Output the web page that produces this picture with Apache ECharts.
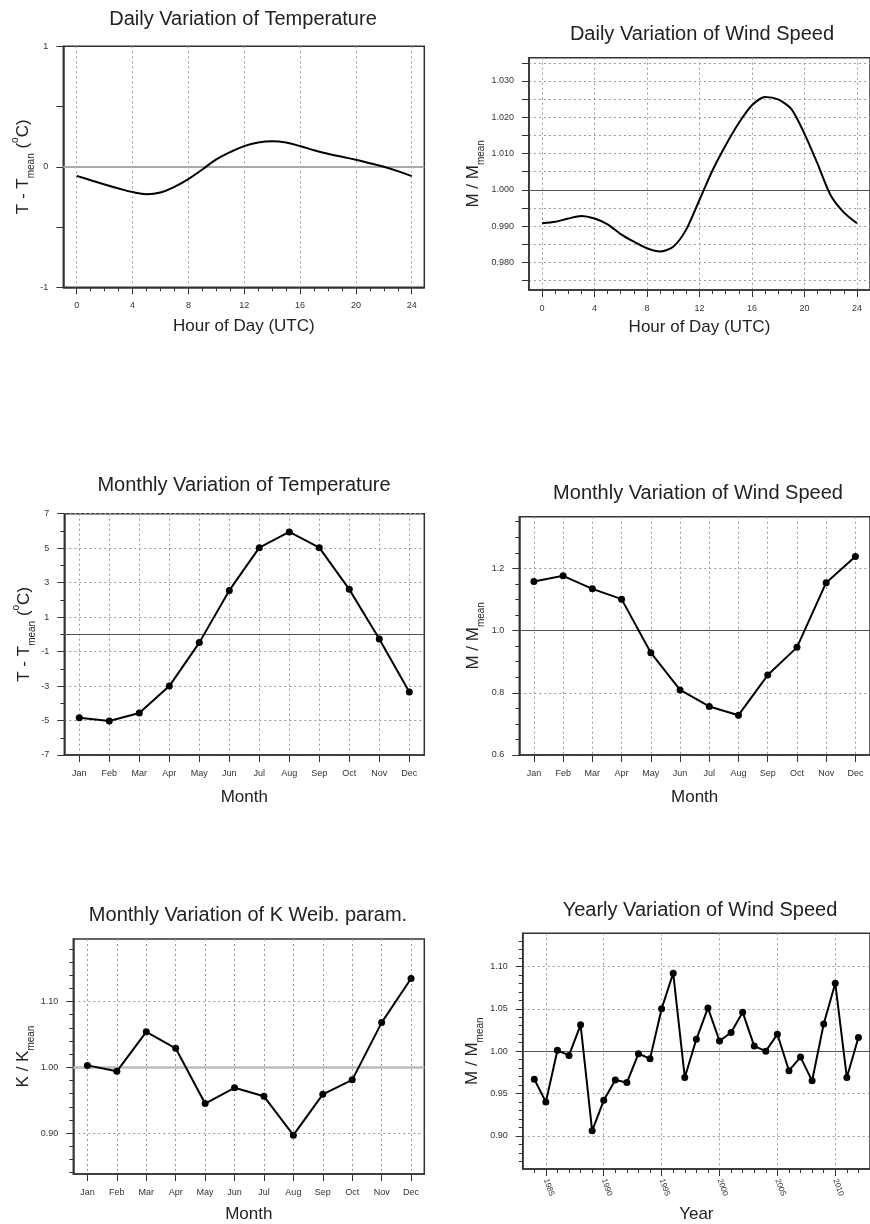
<!DOCTYPE html>
<html>
<head>
<meta charset="utf-8">
<script src="https://cdn.jsdelivr.net/npm/echarts@6/dist/echarts.min.js"></script>
<style>
html, body { margin: 0; padding: 0; background: #fff; }
#chart { width: 870px; height: 1224px; }
</style>
</head>
<body>
<div id="chart"></div>
<script>
/* datos */
const hours = [0,1,2,3,4,5,6,7,8,9,10,11,12,13,14,15,16,17,18,19,20,21,22,23,24];
const dailyTemp = [-0.075,-0.111,-0.147,-0.180,-0.210,-0.227,-0.213,-0.166,-0.102,-0.022,0.061,0.122,0.172,0.202,0.213,0.202,0.172,0.138,0.108,0.083,0.058,0.030,0.0,-0.036,-0.077];
const dailyWind = [0.9908,0.9912,0.9921,0.9928,0.9921,0.9905,0.9878,0.9857,0.9839,0.9830,0.9843,0.9891,0.9972,1.0054,1.0123,1.0184,1.0233,1.0256,1.0249,1.0223,1.0155,1.0072,0.9985,0.9938,0.9908];

const months = ["Jan","Feb","Mar","Apr","May","Jun","Jul","Aug","Sep","Oct","Nov","Dec"];
const monthNums = [1,2,3,4,5,6,7,8,9,10,11,12];
const monthlyTemp = [-4.84,-5.03,-4.56,-3.0,-0.48,2.55,5.03,5.94,5.03,2.61,-0.27,-3.35];
const monthlyWind = [1.158,1.176,1.134,1.101,0.929,0.809,0.756,0.728,0.857,0.946,1.154,1.238];
const monthlyK = [1.003,0.994,1.054,1.029,0.945,0.969,0.956,0.897,0.959,0.981,1.068,1.135];

const years = [1984,1985,1986,1987,1988,1989,1990,1991,1992,1993,1994,1995,1996,1997,1998,1999,2000,2001,2002,2003,2004,2005,2006,2007,2008,2009,2010,2011,2012];
const yearlyWind = [0.967,0.940,1.001,0.995,1.031,0.906,0.942,0.966,0.963,0.997,0.991,1.050,1.092,0.969,1.014,1.051,1.012,1.022,1.046,1.006,1.000,1.020,0.977,0.993,0.965,1.032,1.080,0.969,1.016];

/* ticks */
const hourTicks = [0,4,8,12,16,20,24];
const yearTicks = [1985,1990,1995,2000,2005,2010];
const tempDayTicks = [-1,-0.5,0,0.5,1];
const tempDayLabels = [-1,0,1];
const windDayTicks = [0.975,0.98,0.985,0.99,0.995,1.0,1.005,1.01,1.015,1.02,1.025,1.03,1.035];
const windDayLabels = [0.98,0.99,1.0,1.01,1.02,1.03];
const tempMonTicks = [-7,-5,-3,-1,1,3,5,7];
const tempMonMinor = [-6,-4,-2,0,2,4,6];
const windMonTicks = [0.6,0.8,1.0,1.2];
const windMonMinor = [0.65,0.7,0.75,0.85,0.9,0.95,1.05,1.1,1.15,1.25,1.3,1.35];
const kMonTicks = [0.9,1.0,1.1];
const kMonMinor = [0.84,0.86,0.88,0.92,0.94,0.96,0.98,1.02,1.04,1.06,1.08,1.12,1.14,1.16,1.18];
const windYrTicks = [0.9,0.95,1.0,1.05,1.1];
const windYrMinor = [0.87,0.88,0.89,0.91,0.92,0.93,0.94,0.96,0.97,0.98,0.99,1.01,1.02,1.03,1.04,1.06,1.07,1.08,1.09,1.11,1.12,1.13];

const FONT = '"Liberation Sans", Arial, sans-serif';
const INK = '#222';
const AXC = '#333';
const dots = { color: '#9a9a9a', width: 1, type: [2, 3] };

const option = {
    animation: false,
    backgroundColor: '#fff',
    title: [],
    grid: [],
    xAxis: [],
    yAxis: [],
    series: []
};

function yName(main, sub, sup, tail) {
    let s = '{a|' + main + '}{s|' + sub + '}';
    if (sup) s += '{a| (}{p|' + sup + '}{a|' + tail + '}';
    return s;
}

const nameStyle = {
    fontFamily: FONT, fontSize: 17, color: INK,
    rich: {
        a: { fontFamily: FONT, fontSize: 17, color: INK, lineHeight: 26 },
        s: { fontFamily: FONT, fontSize: 10, color: INK, verticalAlign: 'bottom', lineHeight: 10 },
        p: { fontFamily: FONT, fontSize: 10, color: INK, verticalAlign: 'top', lineHeight: 12 }
    }
};

function addPanel(p) {
    const gi = option.grid.length;
    option.grid.push({
        show: true, left: p.grid[0], top: p.grid[1], width: p.grid[2], height: p.grid[3],
        borderColor: AXC, borderWidth: 1.5, backgroundColor: 'transparent'
    });
    option.title.push({
        text: p.title, left: p.titlePos[0], top: p.titlePos[1], padding: 0,
        textAlign: 'center', textVerticalAlign: 'middle',
        textStyle: { fontFamily: FONT, fontSize: 20, fontWeight: 'normal', color: INK }
    });

    const xi = option.xAxis.length;
    option.xAxis.push({
        type: 'value', gridIndex: gi, position: 'bottom', min: p.x.min, max: p.x.max,
        name: p.x.name, nameLocation: 'middle', nameGap: p.x.nameGap,
        nameTextStyle: { fontFamily: FONT, fontSize: 17, color: INK },
        axisLine: { show: true, onZero: false, lineStyle: { color: AXC, width: 1.5 } },
        axisTick: { show: true, customValues: p.x.ticks, length: 7, lineStyle: { color: AXC, width: 1 } },
        axisLabel: {
            customValues: p.x.ticks, formatter: p.x.fmt, fontFamily: FONT, fontSize: p.x.fontSize || 9,
            color: AXC, margin: p.x.margin || 14, rotate: p.x.rotate || 0
        },
        splitLine: { show: true, lineStyle: dots }
    });
    if (p.x.minor) {
        option.xAxis.push({
            type: 'value', gridIndex: gi, position: 'bottom', min: p.x.min, max: p.x.max,
            axisLine: { show: false, onZero: false },
            axisTick: { show: true, customValues: p.x.minor, length: 4, lineStyle: { color: AXC, width: 1 } },
            axisLabel: { show: false },
            splitLine: { show: false }
        });
    }

    const yi = option.yAxis.length;
    option.yAxis.push({
        type: 'value', gridIndex: gi, position: 'left', min: p.y.min, max: p.y.max,
        name: p.y.name, nameLocation: 'middle', nameGap: p.y.nameGap, nameRotate: 90,
        nameTextStyle: nameStyle,
        axisLine: { show: true, onZero: false, lineStyle: { color: AXC, width: 1.5 } },
        axisTick: { show: true, customValues: p.y.ticks, length: 7, lineStyle: { color: AXC, width: 1 } },
        axisLabel: {
            customValues: p.y.labels || p.y.ticks, formatter: p.y.fmt, fontFamily: FONT, fontSize: 9,
            color: AXC, margin: 15
        },
        splitLine: { show: p.y.split !== false, lineStyle: dots }
    });
    if (p.y.minor) {
        option.yAxis.push({
            type: 'value', gridIndex: gi, position: 'left', min: p.y.min, max: p.y.max,
            axisLine: { show: false, onZero: false },
            axisTick: { show: true, customValues: p.y.minor, length: 4, lineStyle: { color: AXC, width: 1 } },
            axisLabel: { show: false },
            splitLine: { show: false }
        });
    }

    option.series.push({
        type: 'line', xAxisIndex: xi, yAxisIndex: yi,
        data: p.xs.map((x, i) => [x, p.ys[i]]),
        smooth: p.smooth || false,
        showSymbol: !!p.symbol, symbol: 'circle', symbolSize: 7,
        itemStyle: { color: '#000' },
        lineStyle: { color: '#000', width: 2 },
        z: 5,
        markLine: {
            silent: true, symbol: 'none', label: { show: false },
            lineStyle: { color: p.ref.color, width: p.ref.width, type: 'solid' },
            data: [{ yAxis: p.ref.value }],
            z: 3
        }
    });
}

const monthFmt = v => months[v - 1];

addPanel({
    title: 'Daily Variation of Temperature', titlePos: [243, 19],
    grid: [63.3, 46.3, 361, 241],
    x: { min: -0.96, max: 24.9, ticks: hourTicks, minor: hours, fmt: v => String(v), name: 'Hour of Day (UTC)', nameGap: 31 },
    y: { min: -1, max: 1, ticks: tempDayTicks, labels: tempDayLabels, split: false, fmt: v => String(v),
         name: yName('T - T', 'mean', 'o', 'C)'), nameGap: 27 },
    xs: hours, ys: dailyTemp, smooth: 0.4,
    ref: { value: 0, color: '#aaa', width: 2 }
});

addPanel({
    title: 'Daily Variation of Wind Speed', titlePos: [702, 34],
    grid: [528.9, 57.7, 347.8, 232.3],
    x: { min: -1, max: 25, ticks: hourTicks, minor: hours, fmt: v => String(v), name: 'Hour of Day (UTC)', nameGap: 29 },
    y: { min: 0.9724, max: 1.0364, ticks: windDayTicks, labels: windDayLabels, fmt: v => v.toFixed(3),
         name: yName('M / M', 'mean'), nameGap: 43 },
    xs: hours, ys: dailyWind, smooth: 0.25,
    ref: { value: 1.0, color: '#555', width: 1 }
});

addPanel({
    title: 'Monthly Variation of Temperature', titlePos: [244, 485],
    grid: [64.3, 513.7, 360, 241.3],
    x: { min: 0.5, max: 12.5, ticks: monthNums, fmt: monthFmt, name: 'Month', nameGap: 34 },
    y: { min: -7, max: 7, ticks: tempMonTicks, minor: tempMonMinor, fmt: v => String(v),
         name: yName('T - T', 'mean', 'o', 'C)'), nameGap: 27 },
    xs: monthNums, ys: monthlyTemp, symbol: true,
    ref: { value: 0, color: '#555', width: 1 }
});

addPanel({
    title: 'Monthly Variation of Wind Speed', titlePos: [698, 493],
    grid: [519.3, 516.7, 357.1, 238.3],
    x: { min: 0.5, max: 12.5, ticks: monthNums, fmt: monthFmt, name: 'Month', nameGap: 34 },
    y: { min: 0.6, max: 1.366, ticks: windMonTicks, minor: windMonMinor, fmt: v => v.toFixed(1),
         name: yName('M / M', 'mean'), nameGap: 33 },
    xs: monthNums, ys: monthlyWind, symbol: true,
    ref: { value: 1.0, color: '#555', width: 1 }
});

addPanel({
    title: 'Monthly Variation of K Weib. param.', titlePos: [248, 915],
    grid: [73.3, 939, 351, 235.3],
    x: { min: 0.52, max: 12.45, ticks: monthNums, fmt: monthFmt, name: 'Month', nameGap: 32 },
    y: { min: 0.838, max: 1.195, ticks: kMonTicks, minor: kMonMinor, fmt: v => v.toFixed(2),
         name: yName('K / K', 'mean'), nameGap: 37 },
    xs: monthNums, ys: monthlyK, symbol: true,
    ref: { value: 1.0, color: '#bbb', width: 2.5 }
});

addPanel({
    title: 'Yearly Variation of Wind Speed', titlePos: [700, 910],
    grid: [522.7, 933.3, 354, 236],
    x: { min: 1983, max: 2013, ticks: yearTicks, minor: years, fmt: v => String(v), name: 'Year', nameGap: 37,
         rotate: -70, fontSize: 8, margin: 10 },
    y: { min: 0.861, max: 1.139, ticks: windYrTicks, minor: windYrMinor, fmt: v => v.toFixed(2),
         name: yName('M / M', 'mean'), nameGap: 37 },
    xs: years, ys: yearlyWind, symbol: true,
    ref: { value: 1.0, color: '#555', width: 1 }
});

const chart = echarts.init(document.getElementById('chart'));
chart.setOption(option);
</script>
</body>
</html>
